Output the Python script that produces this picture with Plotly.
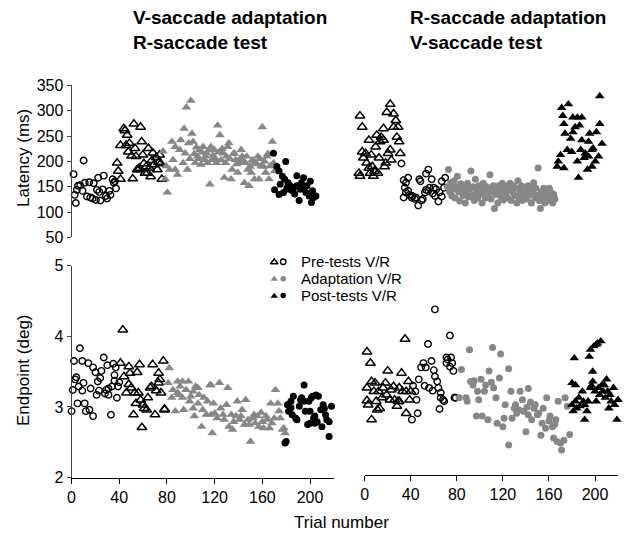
import plotly.graph_objects as go

# ---------------- data (trial number, value) ----------------
# Top-left: V-saccade adaptation / R-saccade test -- latency (ms)
tl_pre_r_t = [0,1,2,3,4,6,9,8,10,12,14,15,17,18,20,21,22,23,24,26,27,29,30,32,33,35,36,37,38]
tl_pre_r_y = [175,134,118,144,152,153,202,142,158,131,159,129,127,157,124,144,168,140,123,145,172,132,127,142,134,165,158,161,147]
tl_pre_v_t = [39,40,42,42,45,46,47,48,49,50,52,53,54,55,56,57,58,59,60,61,62,63,64,65,66,67,68,69,70,71,72,74,75,76,77,78,79]
tl_pre_v_y = [197,181,165,232,265,261,232,252,219,236,211,166,274,226,210,184,184,187,268,239,213,196,177,190,177,226,187,170,202,217,194,208,184,198,213,196,165]
tl_adapt_t = [80,82,84,83,86,88,89,91,91,93,95,96,98,99,100,101,102,103,105,106,107,109,111,113,114,116,117,119,120,122,
              123,124,126,128,129,131,132,134,135,136,138,139,141,142,144,145,147,148,150,151,153,154,156,157,159,160,162,163,165,166,
              168,169,171,172,173,175,176,178,179,180,
              104,108,110,112,115,118,121,125,127,130,133,137,140,143,146,149,152,155,158,161,164,167,170,174]
tl_adapt_y = [220,165,139,191,184,239,203,229,184,174,223,242,197,265,216,307,184,236,320,255,239,197,210,223,194,229,203,216,197,155,
              229,203,223,197,271,252,203,216,168,197,229,236,165,184,216,203,178,197,223,210,158,197,184,152,178,203,165,197,210,165,
              191,268,200,178,210,165,191,239,197,181,
              205,215,228,205,218,210,222,212,205,218,225,210,205,215,195,205,200,210,190,200,195,205,190,215]
tl_post_t = [179,182,180,184,185,187,189,190,191,192,193,194,196,197,198,200,200,202,203,204,206,206,208,209,211,212,213,214,215,217,188,184]
tl_post_y = [216,190,144,181,155,171,165,200,148,158,145,152,142,148,136,172,152,123,145,158,168,148,139,152,132,161,119,142,129,132,139,135]

# Top-right: R-saccade adaptation / V-saccade test -- latency (ms)
tr_pre_v_t = [2,4,1,2,4,5,7,8,10,10,11,12,13,14,15,16,17,18,19,20,21,23,23,24,25,26,27,29,29,30,32,32,34,35,36,37,38]
tr_pre_v_y = [290,268,177,171,219,207,216,197,187,242,177,213,190,171,181,229,252,177,207,239,248,265,242,190,197,297,216,313,223,203,268,294,281,248,268,239,216]
tr_pre_r_t = [39,61,63,41,42,43,45,41,43,45,46,48,49,51,52,54,55,56,57,58,60,61,63,64,66,67,68,69,70,72,73,75,75,77,78]
tr_pre_r_y = [196,176,184,163,148,158,168,129,139,142,134,129,132,126,129,113,165,161,123,126,139,144,142,148,165,137,148,132,145,121,139,161,131,148,168]
tr_adapt_t = [80,81,82,83,84,85,86,87,88,89,90,91,92,93,94,95,96,97,98,99,100,101,102,103,104,105,106,107,108,109,
              110,111,112,113,114,115,116,117,118,119,120,121,122,123,124,125,126,127,128,129,130,131,132,133,134,135,136,137,138,139,
              140,141,142,143,144,145,146,147,148,149,150,151,152,153,154,155,156,157,158,159,160,161,162,163,164,165,166,167,168,169,
              170,171,172,173,174,175,176]
tr_adapt_y = [150,184,140,158,132,145,162,128,150,171,140,122,156,145,133,150,118,140,157,130,145,181,133,150,123,165,140,128,152,135,
              147,118,157,140,128,150,136,145,174,126,140,152,107,135,147,118,152,140,128,157,124,145,138,152,128,145,157,123,140,152,
              133,147,118,162,128,140,152,123,147,133,140,126,152,135,147,118,140,158,128,147,133,187,123,107,140,128,147,118,135,140,
              123,147,128,138,118,135,126]
tr_post_t = [182,188,183,192,196,200,194,198,185,190,192,200,207,213,216,216,187,191,181,199,203,206,210,218,215,179,178,184,196,202,205,209,212,197,209,206,184]
tr_post_y = [306,313,290,287,287,287,268,271,255,245,258,242,255,258,274,329,223,219,213,223,216,239,226,235,210,200,190,187,200,207,184,190,200,168,223,210,274]

# Bottom-left: endpoint (deg)
bl_pre_r_t = [0,1,2,3,4,5,6,7,9,9,10,11,12,14,15,16,18,18,20,21,22,23,24,25,27,28,29,30,31,31,33,34,35,36,37,38,39,40,36]
bl_pre_r_y = [2.94,3.24,3.65,3.39,3.42,3.05,3.29,3.83,3.65,3.23,3.34,3.05,2.94,3.62,2.96,3.26,3.56,2.87,3.49,3.17,3.36,3.23,3.41,3.51,3.70,3.19,3.24,3.59,3.17,3.26,2.89,3.29,3.61,3.37,3.56,3.13,3.29,3.35,3.45]
bl_pre_v_t = [43,41,44,46,48,49,50,52,53,54,55,56,57,58,59,60,61,63,64,66,67,68,70,71,73,73,74,75,77,78,78,48]
bl_pre_v_y = [4.09,3.62,3.43,3.20,3.57,3.48,3.27,2.89,3.20,3.05,3.49,3.20,3.60,3.10,2.71,3.03,2.98,2.96,3.13,3.27,3.29,3.60,2.89,3.23,3.48,3.34,3.39,3.20,3.65,2.96,2.97,3.32]
bl_adapt_t = [82,81,84,85,87,89,90,91,93,94,96,98,99,100,102,103,104,106,107,109,110,111,113,114,116,117,118,119,120,122,
              124,125,127,128,130,131,132,134,135,136,138,139,141,142,143,145,146,148,149,150,152,153,154,156,157,159,160,161,163,164,
              166,167,168,170,171,173,174,175,177,178,179,89,93,102,106,117]
bl_adapt_y = [3.55,3.34,3.13,3.24,2.94,3.36,3.17,3.29,3.13,2.96,3.24,3.36,3.08,3.15,2.98,2.87,3.29,3.05,3.17,2.72,
              2.96,3.13,2.89,3.08,3.31,2.89,2.63,3.05,2.91,2.84,3.34,2.98,2.89,2.82,3.03,3.27,2.72,2.89,2.68,2.79,
              2.87,3.08,2.82,2.87,2.96,2.75,3.10,2.82,2.75,2.51,2.84,2.89,2.77,2.87,2.72,2.92,2.79,2.70,2.87,2.82,
              2.70,3.05,2.77,2.84,3.24,3.05,2.94,2.84,2.68,2.70,2.63,3.20,3.36,3.22,3.27,3.31]
bl_post_t = [179,180,181,182,184,185,186,188,189,191,192,193,195,195,196,198,199,200,201,202,203,204,204,205,206,207,209,210,211,212,213,214,216,216,218,184,200]
bl_post_y = [2.49,2.51,3.03,2.94,3.08,2.89,3.15,2.84,2.82,3.01,3.10,3.13,3.31,3.08,2.94,2.75,3.08,2.77,3.13,3.15,2.84,2.77,2.87,3.17,2.79,3.15,2.96,2.72,3.03,2.98,2.89,2.82,2.58,2.79,3.01,2.99,2.94]

# Bottom-right: endpoint (deg)
br_pre_v_t = [2,5,6,2,2,6,8,9,10,12,13,15,16,18,19,20,22,23,25,28,29,30,32,35,33,36,38,39,40,11,3,26,36,30]
br_pre_v_y = [3.78,3.62,2.82,3.27,3.09,3.36,3.22,3.34,3.08,3.22,2.98,3.13,3.27,3.34,3.17,3.51,3.10,3.24,3.29,3.01,3.08,3.27,3.48,3.96,3.22,2.91,3.36,3.10,3.22,2.96,3.03,3.10,3.22,3.08]
br_pre_r_t = [42,41,45,46,47,49,51,52,53,55,56,58,59,60,61,61,63,64,65,66,68,69,71,72,74,75,76,77,78,79,71,74,44,66]
br_pre_r_y = [3.30,2.82,3.10,2.91,3.39,3.56,3.62,3.30,3.56,3.89,3.27,3.65,3.23,3.52,4.38,3.43,3.36,3.27,2.97,3.20,3.10,3.08,3.70,3.67,4.01,3.70,3.62,3.51,3.13,3.13,3.62,3.57,3.22,3.13]
br_adapt_t = [84,82,88,91,92,94,95,97,98,99,101,102,104,105,107,108,110,111,112,114,115,117,118,120,121,122,125,125,127,128,
              130,131,132,134,135,137,138,140,141,142,142,144,145,147,148,150,151,153,154,155,157,158,160,161,163,164,165,167,168,170,
              171,173,174,176,178,166,89]
br_adapt_y = [3.53,3.13,3.13,3.81,3.36,3.31,3.37,2.87,3.22,3.10,3.39,2.87,3.22,3.31,2.82,3.51,3.35,3.84,3.27,3.13,
              2.77,3.41,3.75,2.72,2.84,3.03,2.46,3.54,3.22,2.84,2.98,3.03,2.91,2.96,3.22,3.10,2.94,2.65,3.00,3.26,
              2.89,3.07,2.82,2.98,3.03,2.89,2.91,2.60,2.77,2.98,2.70,3.13,2.80,2.87,2.72,2.56,2.75,2.51,3.08,2.49,
              2.39,2.53,3.13,3.01,2.61,2.82,3.08]
br_post_t = [182,180,183,180,181,183,184,186,187,189,190,191,191,193,194,195,196,197,198,199,200,201,201,202,203,204,205,206,207,209,
             210,211,212,213,214,216,217,219,220,196,198,208]
br_post_y = [3.69,3.34,3.31,3.03,2.94,3.08,2.98,3.13,3.01,3.22,3.08,2.82,3.03,2.94,3.08,3.71,3.81,3.30,3.50,3.86,
             3.22,3.88,3.08,3.90,3.27,3.17,3.93,3.31,3.22,3.13,3.39,3.22,2.98,3.17,3.08,3.27,3.03,2.82,3.10,3.27,3.36,3.31]

panel_titles = ["<b>V-saccade adaptation</b><br><b>R-saccade test</b>",
                "<b>R-saccade adaptation</b><br><b>V-saccade test</b>"]
legend_labels = ["Pre-tests V/R", "Adaptation V/R", "Post-tests V/R"]
x_ticks = [0, 40, 80, 120, 160, 200]
lat_ticks = [50, 100, 150, 200, 250, 300, 350]
ep_ticks = [2, 3, 4, 5]

# ---------------- styling ----------------
W, H = 627, 536
FONT = "Liberation Sans, Arial, Helvetica, sans-serif"
GRAY = "#878787"
def fx(px): return px / W
def fy(py): return 1 - py / H

STY = {
    "open_tri": dict(symbol="triangle-up-open", size=8.5, color="black", line=dict(width=1.5, color="black")),
    "open_circ": dict(symbol="circle-open", size=6.5, color="black", line=dict(width=1.4, color="black")),
    "gray_tri": dict(symbol="triangle-up", size=8.5, color=GRAY, line=dict(width=0)),
    "gray_circ": dict(symbol="circle", size=7, color=GRAY, line=dict(width=0)),
    "black_tri": dict(symbol="triangle-up", size=8.5, color="black", line=dict(width=0)),
    "black_circ": dict(symbol="circle", size=7, color="black", line=dict(width=0)),
}

fig = go.Figure()
def add(x, y, sty, ax):
    fig.add_trace(go.Scatter(x=x, y=y, mode="markers", marker=STY[sty], showlegend=False,
                             xaxis="x" + ax, yaxis="y" + ax, cliponaxis=False, hoverinfo="skip"))

# top-left
add(tl_pre_r_t, tl_pre_r_y, "open_circ", "")
add(tl_pre_v_t, tl_pre_v_y, "open_tri", "")
add(tl_adapt_t, tl_adapt_y, "gray_tri", "")
add(tl_post_t, tl_post_y, "black_circ", "")
# top-right
add(tr_pre_v_t, tr_pre_v_y, "open_tri", "2")
add(tr_pre_r_t, tr_pre_r_y, "open_circ", "2")
add(tr_adapt_t, tr_adapt_y, "gray_circ", "2")
add(tr_post_t, tr_post_y, "black_tri", "2")
# bottom-left
add(bl_pre_r_t, bl_pre_r_y, "open_circ", "3")
add(bl_pre_v_t, bl_pre_v_y, "open_tri", "3")
add(bl_adapt_t, bl_adapt_y, "gray_tri", "3")
add(bl_post_t, bl_post_y, "black_circ", "3")
# bottom-right
add(br_pre_v_t, br_pre_v_y, "open_tri", "4")
add(br_pre_r_t, br_pre_r_y, "open_circ", "4")
add(br_adapt_t, br_adapt_y, "gray_circ", "4")
add(br_post_t, br_post_y, "black_tri", "4")

# legend symbols (overlay axis in pixel units)
leg_rows = [262, 279.5, 297]
leg_styles = [("open_tri", "open_circ"), ("gray_tri", "gray_circ"), ("black_tri", "black_circ")]
for row, (s1, s2), lab in zip(leg_rows, leg_styles, legend_labels):
    m1 = dict(STY[s1]); m1["size"] = 6.5
    m2 = dict(STY[s2]); m2["size"] = 5.5
    fig.add_trace(go.Scatter(x=[272], y=[row + 0.5], mode="markers", marker=m1, showlegend=False,
                             xaxis="x5", yaxis="y5", hoverinfo="skip"))
    fig.add_trace(go.Scatter(x=[281], y=[row], mode="markers", marker=m2, showlegend=False,
                             xaxis="x5", yaxis="y5", hoverinfo="skip"))
    fig.add_annotation(x=fx(297), y=fy(row), xref="paper", yref="paper", text=lab, showarrow=False,
                       xanchor="left", yanchor="middle", font=dict(size=15, color="black", family=FONT))

tickfont = dict(size=16, color="black", family=FONT)
yline = dict(showline=True, linecolor="#444", linewidth=1, ticks="outside", ticklen=4, tickcolor="#444",
             showgrid=False, zeroline=False, tickfont=tickfont)
xline = dict(showline=True, linecolor="black", linewidth=1, ticks="outside", ticklen=5, tickcolor="black",
             showgrid=False, zeroline=False, tickfont=tickfont, tickvals=x_ticks)
hidden = dict(visible=False, showgrid=False, zeroline=False)

fig.update_layout(
    width=W, height=H, margin=dict(l=0, r=0, t=0, b=0),
    paper_bgcolor="white", plot_bgcolor="rgba(0,0,0,0)",
    font=dict(family=FONT, color="black"),
    xaxis=dict(domain=[fx(68), fx(332)], range=[-1.8, 233.1], anchor="y", **hidden),
    yaxis=dict(domain=[fy(237), fy(80)], range=[50, 350], tickvals=lat_ticks, anchor="x", **yline),
    xaxis2=dict(domain=[fx(350), fx(620)], range=[-5.3, 234.1], anchor="y2", **hidden),
    yaxis2=dict(domain=[fy(237), fy(80)], range=[50, 350], anchor="x2", **hidden),
    xaxis3=dict(domain=[fx(68), fx(332)], range=[0, 220], anchor="y3", **xline),
    yaxis3=dict(domain=[fy(485), fy(266)], range=[2, 5], tickvals=ep_ticks, anchor="x3", **yline),
    xaxis4=dict(domain=[fx(363), fx(618)], range=[0, 220], anchor="y4", **xline),
    yaxis4=dict(domain=[fy(482), fy(266)], range=[2.041, 5], anchor="x4", **hidden),
    xaxis5=dict(domain=[0, 1], range=[0, W], anchor="y5", **hidden),
    yaxis5=dict(domain=[0, 1], range=[H, 0], anchor="x5", **hidden),
)

fig.add_annotation(x=fx(128), y=fy(-3), xref="paper", yref="paper", text=panel_titles[0], showarrow=False,
                   xanchor="left", yanchor="top", align="left", font=dict(size=19, family=FONT, color="black"))
fig.add_annotation(x=fx(407), y=fy(-3), xref="paper", yref="paper", text=panel_titles[1], showarrow=False,
                   xanchor="left", yanchor="top", align="left", font=dict(size=19, family=FONT, color="black"))
fig.add_annotation(x=fx(19), y=fy(155), xref="paper", yref="paper", text="Latency (ms)", showarrow=False,
                   textangle=-90, xanchor="center", yanchor="middle", font=dict(size=17, family=FONT, color="black"))
fig.add_annotation(x=fx(19), y=fy(374), xref="paper", yref="paper", text="Endpoint (deg)", showarrow=False,
                   textangle=-90, xanchor="center", yanchor="middle", font=dict(size=17, family=FONT, color="black"))
fig.add_annotation(x=fx(340), y=fy(531), xref="paper", yref="paper", text="Trial number", showarrow=False,
                   xanchor="center", yanchor="middle", font=dict(size=17, family=FONT, color="black"))

fig.write_html("out.html")
